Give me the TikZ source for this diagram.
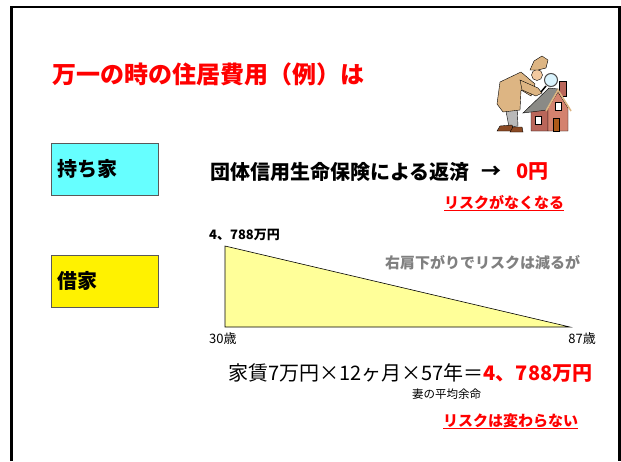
\documentclass[tikz,border=0pt]{standalone}
\usepackage{fontspec}
\setmainfont{Noto Sans CJK JP}
\usepackage{tikz}

\definecolor{boxcyan}{HTML}{66FFFF}
\definecolor{paleyellow}{HTML}{FFFF99}
\definecolor{coat}{HTML}{DDB583}
\definecolor{skin}{HTML}{F2C9A0}
\definecolor{wall}{HTML}{D4826E}
\definecolor{wallside}{HTML}{B9665A}
\definecolor{roof}{HTML}{8A8A86}
\definecolor{shoe}{HTML}{8B4A24}

\newcommand{\kakeru}{\makebox[1em]{×}}

\tikzset{
  kindbox/.style={draw=black!65, line width=1pt, minimum height=52pt,
    text width=95pt, inner xsep=6pt, align=left,
    font=\fontsize{20}{22}\selectfont\bfseries},
  txt/.style={anchor=west, inner sep=0pt},
  redline/.style={red, line width=1.3pt},
}

\begin{document}
\begin{tikzpicture}[x=1pt,y=-1pt]
\useasboundingbox (0,0) rectangle (621,461);
\fill[white] (0,0) rectangle (621,461);
\draw[line width=2.5pt] (11.5,461)--(11.5,7)--(619.5,7)--(619.5,461);

\node[txt, text=red, font=\fontsize{24}{26}\selectfont\bfseries] (title) at (52,74) {万一の時の住居費用（例）は};

% house
\filldraw[fill=wallside, line width=0.4pt] (559,81) rectangle (566,96);
\filldraw[fill=wallside, line width=0.4pt] (531,111)--(548,108)--(548,131)--(531,131)--cycle;
\filldraw[fill=wall, line width=0.4pt] (548,108)--(558,92)--(568,108)--(568,131)--(548,131)--cycle;
\filldraw[fill=roof, line width=0.4pt] (523,113)--(549,88)--(558,89)--(547,110)--cycle;
\draw[coat, line width=1.6pt] (546,111)--(558,90)--(571,111);
\filldraw[fill=white, line width=0.4pt] (535,116) rectangle (541,124);
\filldraw[fill=white, line width=0.4pt] (555,102) rectangle (561,110);
\filldraw[fill=shoe!70!orange, line width=0.4pt] (553,118) rectangle (559,131);
% detective
\filldraw[fill=gray!55, line width=0.4pt] (505,106)--(517,106)--(518,126)--(509,127)--cycle;
\filldraw[fill=shoe, line width=0.4pt] (497,131)--(500,126)--(512,125)--(514,131)--cycle;
\filldraw[fill=shoe, line width=0.4pt] (510,132)--(513,127)--(522,127)--(523,132)--cycle;
\filldraw[fill=coat, line width=0.4pt] (500,82)--(521,72)--(535,84)--(531,96)--(521,90)--(520,110)--(503,112)--(497,104)--cycle;
\filldraw[fill=coat, line width=0.4pt] (520,80)--(538,88)--(542,93)--(536,96)--(522,90)--cycle;
\filldraw[fill=skin, line width=0.4pt] (537,75) circle (5.5);
\filldraw[fill=coat, line width=0.4pt] (530,70)--(534,61)--(542,56)--(548,60)--(546,68)--(538,70)--cycle;
\draw[line width=1.5pt] (541,92)--(546,86);
\filldraw[fill=cyan!15, draw=black!70, line width=1pt] (551,80) circle (6.5);

% own house
\node[kindbox, fill=boxcyan] (own) at (104.5,169) {持ち家};
\node[txt, font=\fontsize{20}{22}\selectfont\bfseries] (repay) at (210,172) {団体信用生命保険による返済};
\node[txt, font=\fontsize{20}{22}\selectfont\bfseries] (arrow) at (481,172) {→};
\node[txt, text=red, font=\fontsize{20}{22}\selectfont\bfseries] (zero) at (516,172) {0円};
\node[txt, text=red, font=\fontsize{15}{17}\selectfont\bfseries] (risk1) at (444,203) {リスクがなくなる};
\draw[redline] (risk1.south west) -- (risk1.south east);

% rented house
\node[kindbox, fill=yellow] (rent) at (105,281) {借家};
\node[txt, font=\fontsize{13}{15}\selectfont\bfseries] (peak) at (209,235) {4、788万円};
\filldraw[fill=paleyellow, draw=black, line width=0.6pt] (225,246)--(225,327)--(570,327)--cycle;
\node[txt, text=gray, font=\fontsize{15}{17}\selectfont\bfseries] (slope) at (385,263) {右肩下がりでリスクは減るが};
\node[txt, font=\fontsize{13}{15}\selectfont] (age30) at (209,339) {30歳};
\node[anchor=east, inner sep=0pt, font=\fontsize{13}{15}\selectfont] (age87) at (596,339) {87歳};

\node[txt, font=\fontsize{20}{22}\selectfont] (rentcalc) at (228,373) {家賃7万円\kakeru 12ヶ月\kakeru 57年＝\textcolor{red}{\bfseries 4、788万円}};
\node[txt, font=\fontsize{11.5}{13}\selectfont] (wife) at (412,394) {妻の平均余命};
\node[txt, text=red, font=\fontsize{15}{17}\selectfont\bfseries] (risk2) at (443,421) {リスクは変わらない};
\draw[redline] (risk2.south west) -- (risk2.south east);
\end{tikzpicture}
\end{document}
